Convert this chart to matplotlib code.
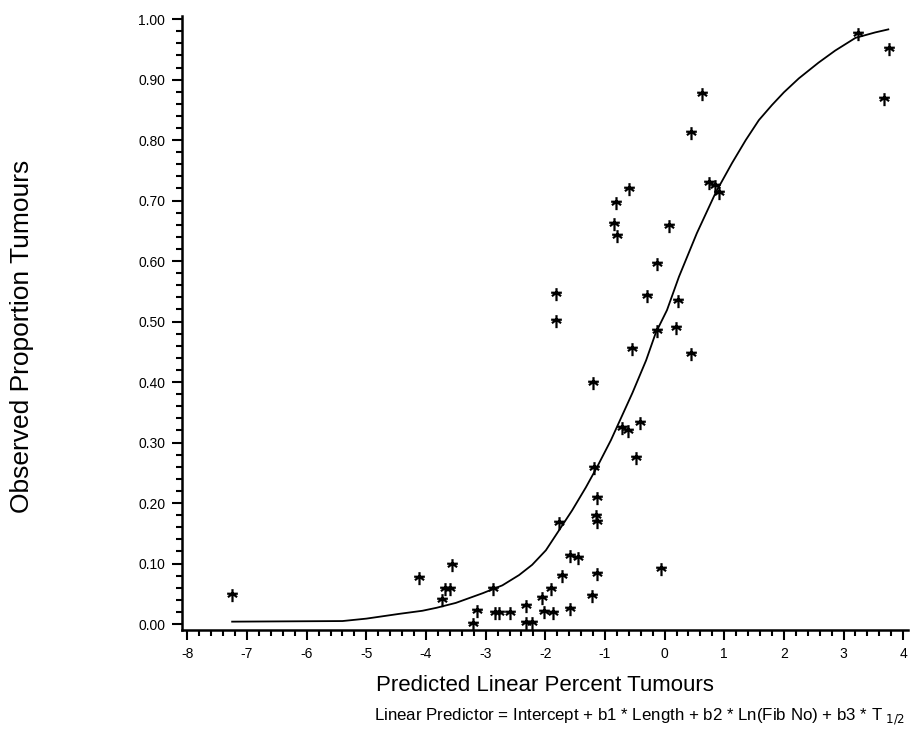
import numpy as np
import matplotlib
matplotlib.use("Agg")
import matplotlib.pyplot as plt
from matplotlib.path import Path
from matplotlib.ticker import MultipleLocator, FormatStrFormatter

plt.rcParams['font.family'] = ['Liberation Sans', 'DejaVu Sans']

# observed points (predicted linear predictor, observed proportion)
obs_x = [-7.25, -4.11, -3.57, -3.68, -3.60, -3.73, -3.22, -3.14, -2.87, -2.85,
         -2.77, -2.59, -2.32, -2.32, -2.22, -2.05, -1.90, -2.03, -1.87, -1.72,
         -1.58, -1.45, -1.58, -1.77, -1.18, -1.13, -1.15, -1.14, -1.13, -1.21,
         -0.48, -0.06, -1.20, -0.41, -0.71, -0.62, -0.54, 0.44, -0.12, 0.19,
         -0.30, 0.23, -1.82, -1.82, -0.12, -0.85, -0.80, 0.07, -0.81, -0.60,
         0.75, 0.85, 0.92, 0.44, 0.63, 3.25, 3.77, 3.67]
obs_y = [0.050, 0.078, 0.100, 0.060, 0.060, 0.041, 0.002, 0.023, 0.059, 0.020,
         0.020, 0.020, 0.031, 0.003, 0.003, 0.045, 0.060, 0.022, 0.020, 0.081,
         0.114, 0.111, 0.026, 0.169, 0.260, 0.210, 0.180, 0.170, 0.084, 0.048,
         0.276, 0.093, 0.400, 0.334, 0.326, 0.321, 0.456, 0.448, 0.486, 0.491,
         0.544, 0.536, 0.547, 0.502, 0.597, 0.663, 0.643, 0.660, 0.698, 0.720,
         0.730, 0.725, 0.715, 0.813, 0.878, 0.977, 0.952, 0.869]

# fitted curve
fit_x = [-7.25, -5.4, -5.0, -4.44, -4.06, -3.82, -3.5, -3.05, -2.72, -2.44,
         -2.22, -1.99, -1.77, -1.55, -1.32, -1.13, -0.9, -0.54, -0.31, -0.15,
         0.04, 0.24, 0.54, 0.86, 1.13, 1.36, 1.58, 1.8, 2.0, 2.25, 2.58, 2.86,
         3.2, 3.53, 3.75]
fit_y = [0.004, 0.005, 0.009, 0.017, 0.022, 0.027, 0.035, 0.051, 0.064, 0.081,
         0.098, 0.122, 0.155, 0.188, 0.226, 0.26, 0.304, 0.382, 0.436, 0.481,
         0.519, 0.574, 0.646, 0.714, 0.762, 0.80, 0.833, 0.858, 0.879, 0.902,
         0.928, 0.948, 0.969, 0.978, 0.983]

# asterisk-like marker with a long stem
verts = [(0, 0.7), (0, -1.0),
         (-0.7, 0.1), (0.7, 0.1),
         (0, 0.1), (-0.6, -0.35),
         (0, 0.1), (0.6, -0.35)]
codes = [Path.MOVETO, Path.LINETO] * 4
star = Path(verts, codes)

fig = plt.figure(figsize=(9.12, 7.31), dpi=100)
ax = fig.add_axes([0.1996, 0.138, 0.7960, 0.840])

ax.plot(fit_x, fit_y, color='black', lw=1.3)
ax.plot(obs_x, obs_y, linestyle='none', marker=star, markersize=11,
        markeredgewidth=1.6, color='black', markerfacecolor='none')

ax.set_xlim(-8.09, 4.08)
ax.set_ylim(-0.01, 1.005)
ax.xaxis.set_major_locator(MultipleLocator(1))
ax.xaxis.set_minor_locator(MultipleLocator(0.2))
ax.yaxis.set_major_locator(MultipleLocator(0.1))
ax.yaxis.set_minor_locator(MultipleLocator(0.02))
ax.yaxis.set_major_formatter(FormatStrFormatter('%.2f'))
ax.xaxis.set_major_formatter(FormatStrFormatter('%d'))

for s in ['top', 'right']:
    ax.spines[s].set_visible(False)
for s in ['left', 'bottom']:
    ax.spines[s].set_linewidth(1.8)

ax.tick_params(which='major', direction='out', length=7, width=1.5,
               labelsize=10, pad=5)
ax.tick_params(which='minor', direction='out', length=4, width=1.5)

ax.set_xlabel('Predicted Linear Percent Tumours', fontsize=16, labelpad=10)
fig.text(0.024, 0.54, 'Observed Proportion Tumours', rotation=90,
         fontsize=19, ha='center', va='center')
fig.text(0.701, 0.019,
         r'Linear Predictor = Intercept + b1 * Length + b2 * Ln(Fib No) + b3 * T$_{\ 1/2}$',
         fontsize=12.2, ha='center', va='center')

fig.savefig('out.png', dpi=100)
